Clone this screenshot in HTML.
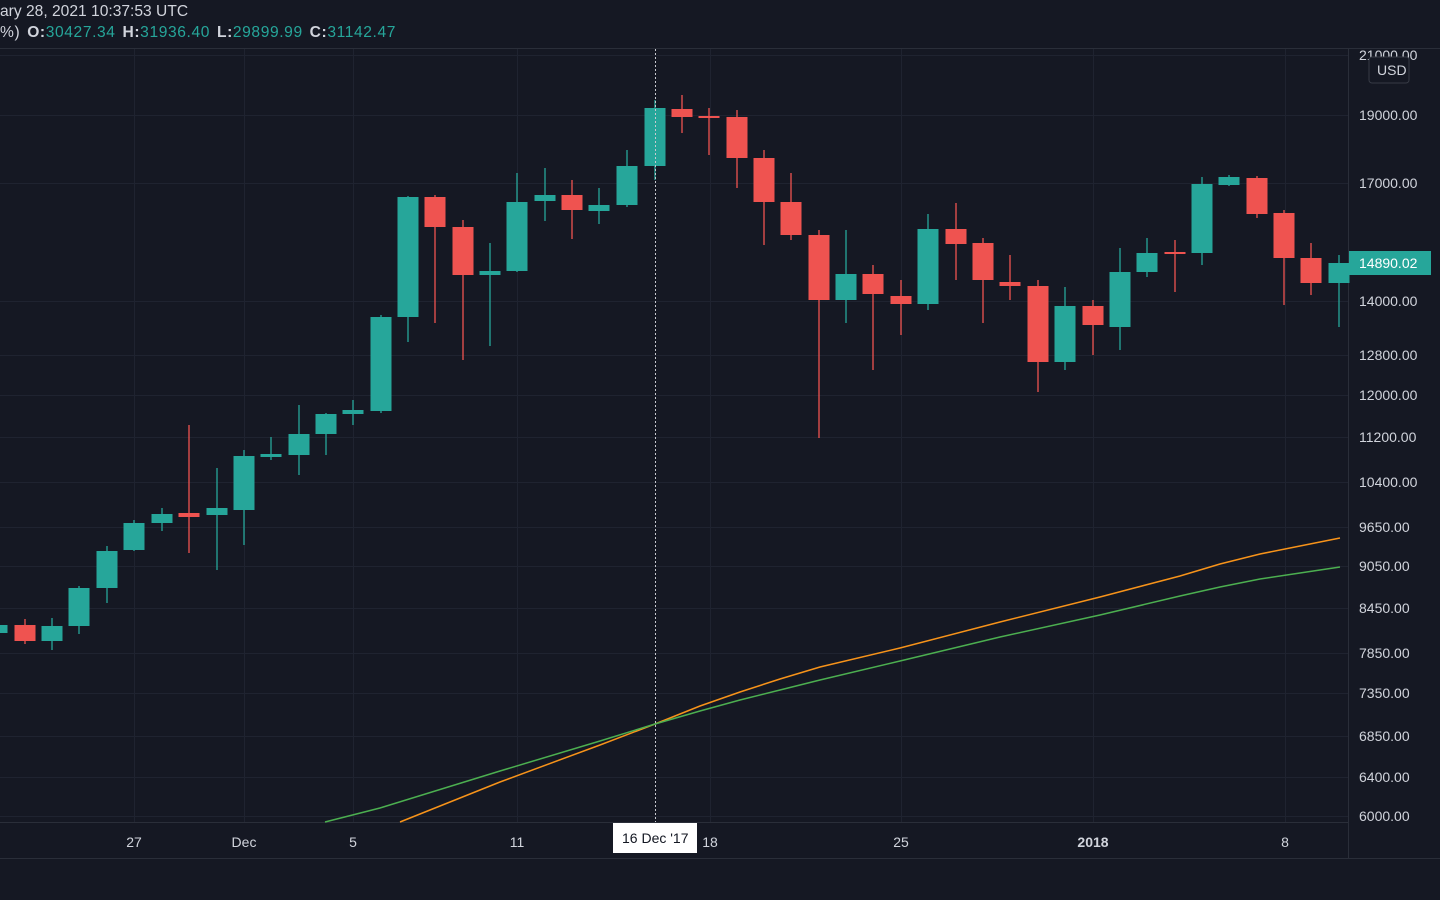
<!DOCTYPE html>
<html><head><meta charset="utf-8"><style>
html,body{margin:0;padding:0;background:#151823;width:1440px;height:900px;overflow:hidden;font-family:"Liberation Sans",sans-serif}
svg{display:block}
</style></head><body>
<svg id="s" width="1440" height="900" xmlns="http://www.w3.org/2000/svg">
<rect width="1440" height="900" fill="#151823"/>
<g id="grid"></g>
<line x1="0" y1="48.5" x2="1440" y2="48.5" stroke="#2a2e39"/>
<line x1="1348.5" y1="49" x2="1348.5" y2="858" stroke="#2a2e39"/>
<line x1="0" y1="822.5" x2="1348" y2="822.5" stroke="#2a2e39"/>
<line x1="0" y1="858.5" x2="1440" y2="858.5" stroke="#2a2e39"/>
<g id="c"></g>
<polyline fill="none" stroke="#f7931a" stroke-width="1.5" points="400,822 500,782 600,745 655,724 700,706 740,692 780,679 820,667 900,648 1000,622 1100,597 1180,576 1220,564 1260,554 1300,546 1340,538"/>
<polyline fill="none" stroke="#4caf50" stroke-width="1.5" points="325,822 380,808 500,771 600,741 655,724 700,711 740,700 780,690 820,680 900,661 1000,637 1100,615 1180,596 1220,587 1260,579 1300,573 1340,567"/>
<line x1="655.5" y1="49" x2="655.5" y2="822" stroke="#c8cad0" stroke-dasharray="2,2"/>
<g id="ax" font-size="14" fill="#d1d4dc"></g>
<rect x="1349" y="251" width="82" height="24" fill="#26a69a"/>
<text x="1359" y="268" font-size="14" fill="#fff">14890.02</text>
<rect x="1369" y="57" width="40" height="26" rx="3" fill="#151823" stroke="#363a45"/>
<text x="1377" y="75" font-size="14" fill="#d1d4dc">USD</text>
<rect x="613" y="823" width="84" height="30" fill="#ffffff"/>
<text x="622" y="843" font-size="14" fill="#131722">16 Dec '17</text>
<text x="0" y="16" font-size="15.6" fill="#d1d4dc">ary 28, 2021 10:37:53 UTC</text>
<text x="0" y="37" font-size="15.6" fill="#d1d4dc" letter-spacing="0.6" word-spacing="2">%) <tspan font-weight="bold">O:</tspan><tspan fill="#26a69a">30427.34</tspan> <tspan font-weight="bold">H:</tspan><tspan fill="#26a69a">31936.40</tspan> <tspan font-weight="bold">L:</tspan><tspan fill="#26a69a">29899.99</tspan> <tspan font-weight="bold">C:</tspan><tspan fill="#26a69a">31142.47</tspan></text>
</svg>
<script>
var NS="http://www.w3.org/2000/svg";
function el(p,t,a,txt){var e=document.createElementNS(NS,t);for(var k in a)e.setAttribute(k,a[k]);if(txt)e.textContent=txt;document.getElementById(p).appendChild(e);return e;}
var hy=[55,115,183,301,355,395,437,482,527,566,608,653,693,736,777,816];
var hl=["21000.00","19000.00","17000.00","14000.00","12800.00","12000.00","11200.00","10400.00","9650.00","9050.00","8450.00","7850.00","7350.00","6850.00","6400.00","6000.00"];
hy.forEach(function(y,i){el("grid","line",{x1:0,x2:1348,y1:y+.5,y2:y+.5,stroke:"#1f2330"});el("ax","text",{x:1359,y:y+5},hl[i]);});
var vx=[134,244,353,517,710,901,1093,1285];
var vl=["27","Dec","5","11","18","25","2018","8"];
vx.forEach(function(x,i){el("grid","line",{x1:x+.5,x2:x+.5,y1:49,y2:822,stroke:"#1f2330"});var t=el("ax","text",{x:x,y:847,"text-anchor":"middle"},vl[i]);if(vl[i]=="2018")t.setAttribute("font-weight","bold");});
var C=[[-3,625,633,620,636,1],[25,625,641,619,644,0],[52,626,641,618,650,1],[79,588,626,586,634,1],[107,551,588,546,603,1],[134,523,550,520,551,1],[162,514,523,508,531,1],[189,513,517,425,553,0],[217,508,515,468,570,1],[244,456,510,450,545,1],[271,454,457,437,460,1],[299,434,455,405,475,1],[326,414,434,413,455,1],[353,410,414,400,425,1],[381,317,411,315,413,1],[408,197,317,196,342,1],[435,197,227,195,323,0],[463,227,275,220,360,0],[490,271,275,243,346,1],[517,202,271,173,272,1],[545,195,201,168,221,1],[572,195,210,180,239,0],[599,205,211,188,224,1],[627,166,205,150,207,1],[655,108,166,100,180,1],[682,109,117,95,133,0],[709,116,118,108,155,0],[737,117,158,110,188,0],[764,158,202,150,245,0],[791,202,235,173,240,0],[819,235,300,230,438,0],[846,274,300,230,323,1],[873,274,294,265,370,0],[901,296,304,280,335,0],[928,229,304,214,310,1],[956,229,244,203,280,0],[983,243,280,238,323,0],[1010,282,286,255,300,0],[1038,286,362,280,392,0],[1065,306,362,287,370,1],[1093,306,325,300,355,0],[1120,272,327,248,350,1],[1147,253,272,238,277,1],[1175,252,254,240,292,0],[1202,184,253,177,265,1],[1229,177,185,175,186,1],[1257,178,214,176,218,0],[1284,213,258,210,305,0],[1311,258,283,243,295,0],[1339,263,283,255,327,1]];
C.forEach(function(c){var col=c[5]?"#26a69a":"#ef5350";el("c","line",{x1:c[0],x2:c[0],y1:c[3],y2:c[4],stroke:col,"stroke-width":1.3});el("c","rect",{x:c[0]-10.5,y:c[1],width:21,height:Math.max(2,c[2]-c[1]),fill:col});});
</script>
</body></html>
